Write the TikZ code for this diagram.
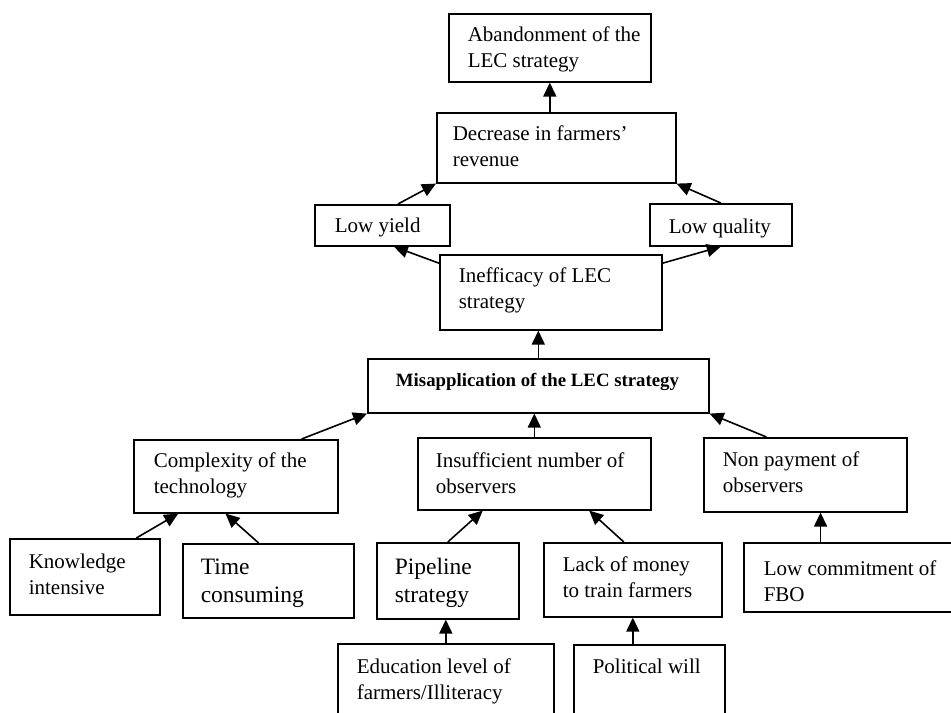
\documentclass[tikz,border=0pt]{standalone}
\usepackage{fontspec}
\setmainfont{Liberation Serif}
\usetikzlibrary{arrows.meta}
\usetikzlibrary{calc}

\begin{document}
\begin{tikzpicture}[x=0.5pt,y=-0.5pt,line width=0.8pt,
  >={Triangle[length=7pt,width=6.5pt]},
  box/.style={draw,anchor=north west,inner sep=0pt},
  txt/.style={anchor=base west,align=left,inner sep=0pt,font=\fontsize{10.5}{12.75}\selectfont},
  bigtxt/.style={txt,font=\fontsize{11.75}{13.75}\selectfont}]
\useasboundingbox (0,0) rectangle (951,712);
% top of the tree (text nodes sit on the baseline of their last line)
\node[box,minimum width=101pt,minimum height=34pt] (aban) at (448,13) {};
\node[txt] (aban-t) at (467,67) {Abandonment of the\\LEC strategy};
\node[box,minimum width=119.5pt,minimum height=35pt] (dec) at (436,112) {};
\node[txt] (dec-t) at (452,166) {Decrease in farmers'\\revenue};
\node[box,minimum width=67.5pt,minimum height=20.5pt] (lowyield) at (314,204) {};
\node[txt] (lowyield-t) at (334,232) {Low yield};
\node[box,minimum width=71pt,minimum height=21pt] (lowqual) at (649,203) {};
\node[txt] (lowqual-t) at (668,233) {Low quality};
\node[box,minimum width=111pt,minimum height=37.5pt] (ineff) at (439,254) {};
\node[txt] (ineff-t) at (458,308) {Inefficacy of LEC\\strategy};
% core problem
\node[box,minimum width=170.5pt,minimum height=27pt] (mis) at (367,358) {};
\node[anchor=base,inner sep=0pt,font=\fontsize{9.4}{11}\selectfont\bfseries] (mis-t) at (537.5,386) {Misapplication of the LEC strategy};
% causes
\node[box,minimum width=102pt,minimum height=36.5pt] (comp) at (133,439) {};
\node[txt] (comp-t) at (153,493) {Complexity of the\\technology};
\node[box,minimum width=116.5pt,minimum height=36pt] (insuf) at (417,437) {};
\node[txt] (insuf-t) at (435,493) {Insufficient number of\\observers};
\node[box,minimum width=101.5pt,minimum height=37pt] (nonpay) at (703,437) {};
\node[txt] (nonpay-t) at (722,492) {Non payment of\\observers};
\node[box,minimum width=75pt,minimum height=38pt] (know) at (9,538) {};
\node[txt] (know-t) at (28,594) {Knowledge\\intensive};
\node[box,minimum width=85.5pt,minimum height=37pt] (time) at (182,543) {};
\node[bigtxt] (time-t) at (200,602) {Time\\consuming};
\node[box,minimum width=71pt,minimum height=38pt] (pipe) at (376,542) {};
\node[bigtxt] (pipe-t) at (394,602) {Pipeline\\strategy};
\node[box,minimum width=89pt,minimum height=37pt] (lack) at (543,542) {};
\node[txt] (lack-t) at (562,597) {Lack of money\\to train farmers};
\node[box,minimum width=110pt,minimum height=34.5pt] (lowcom) at (743,542) {};
\node[txt] (lowcom-t) at (763,601) {Low commitment of\\FBO};
\node[box,minimum width=108pt,minimum height=50pt] (edu) at (337,643) {};
\node[txt] (edu-t) at (356,699) {Education level of\\farmers/Illiteracy};
\node[box,minimum width=75.5pt,minimum height=50pt] (pol) at (573,644) {};
\node[txt] (pol-t) at (592,673) {Political will};
% arrows
\draw[->] (aban.south |- dec.north) -- (aban.south);
\draw[->] ($(lowyield.north west)!0.615!(lowyield.north east)$) -- (dec.south west);
\draw[->] (lowqual.north) -- (dec.south east);
\draw[->] ($(ineff.north west)!0.12!(ineff.south west)$) -- ($(lowyield.south west)!0.585!(lowyield.south east)$);
\draw[->] ($(ineff.north east)!0.12!(ineff.south east)$) -- (lowqual.south);
\draw[->] (mis.north) -- (mis.north |- ineff.south);
\draw[->] ($(comp.north west)!0.82!(comp.north east)$) -- (mis.south west);
\draw[->] (insuf.north) -- (insuf.north |- mis.south);
\draw[->] ($(nonpay.north west)!0.31!(nonpay.north east)$) -- (mis.south east);
\draw[->] ($(know.north west)!0.84!(know.north east)$) -- ($(comp.south west)!0.22!(comp.south east)$);
\draw[->] ($(time.north west)!0.444!(time.north east)$) -- ($(comp.south west)!0.45!(comp.south east)$);
\draw[->] (pipe.north) -- ($(insuf.south west)!0.28!(insuf.south east)$);
\draw[->] ($(lack.north west)!0.45!(lack.north east)$) -- ($(insuf.south west)!0.734!(insuf.south east)$);
\coordinate (lowcom-top) at ($(lowcom.north west)!0.35!(lowcom.north east)$);
\draw[->] (lowcom-top) -- (lowcom-top |- nonpay.south);
\draw[->] (edu.north) -- (edu.north |- pipe.south);
\draw[->] (lack.south |- pol.north) -- (lack.south);
\end{tikzpicture}
\end{document}
